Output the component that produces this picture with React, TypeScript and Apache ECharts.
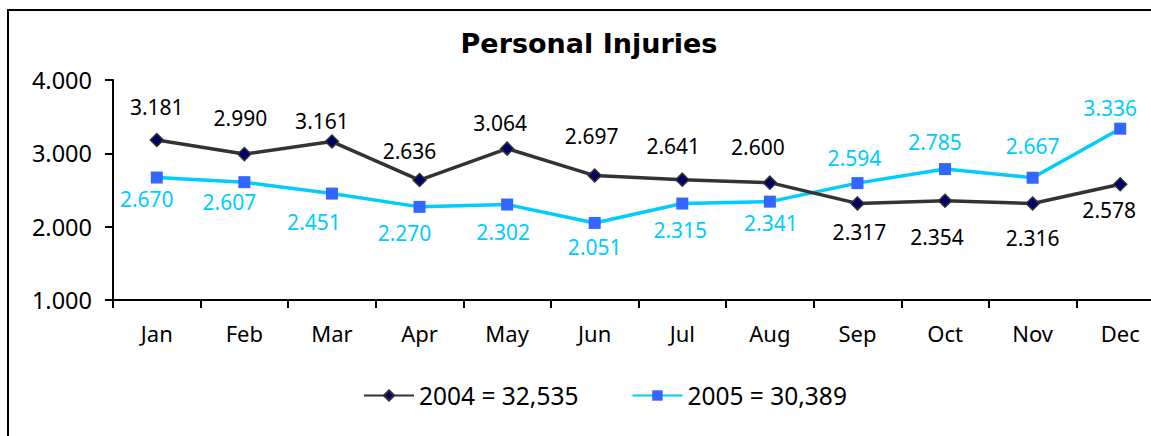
import React, { useEffect, useRef } from "react";
import * as echarts from "echarts";

const months = ["Jan", "Feb", "Mar", "Apr", "May", "Jun", "Jul", "Aug", "Sep", "Oct", "Nov", "Dec"];
const values2004 = [3181, 2990, 3161, 2636, 3064, 2697, 2641, 2600, 2317, 2354, 2316, 2578];
const values2005 = [2670, 2607, 2451, 2270, 2302, 2051, 2315, 2341, 2594, 2785, 2667, 3336];
const seriesYears = ["2004", "2005"];
const yTicks = [1000, 2000, 3000, 4000];
const titleText = "Personal Injuries";

// label offsets (px) relative to each marker centre
const labelOffsets2004: [number, number][] = [
  [0, -33], [-4, -36], [-10, -21], [-10, -29], [-7, -26], [-3, -40],
  [-9, -34], [-12, -36], [2, 29], [-8, 36], [0, 35], [-11, 26],
];
const labelOffsets2005: [number, number][] = [
  [-10, 21], [-15, 20], [-18, 28], [-15, 26], [-4, 27], [0, 24],
  [-2, 26], [1, 21], [-3, -25], [-10, -27], [0, -32], [-10, -21],
];

const FONT = "'Noto Sans', 'DejaVu Sans', sans-serif";
const TITLE_FONT = "'DejaVu Sans', 'Noto Sans', sans-serif";

const fmtDot = (v: number) => {
  const s = String(Math.round(v));
  return s.replace(/\B(?=(\d{3})+(?!\d))/g, ".");
};
const fmtComma = (v: number) => String(Math.round(v)).replace(/\B(?=(\d{3})+(?!\d))/g, ",");
const sum = (a: number[]) => a.reduce((x, y) => x + y, 0);

export default function App() {
  const ref = useRef<HTMLDivElement>(null);
  useEffect(() => {
    if (!ref.current) return;
    const chart = echarts.init(ref.current, undefined, { renderer: "svg" });
    const name2004 = `${seriesYears[0]} = ${fmtComma(sum(values2004))}`;
    const name2005 = `${seriesYears[1]} = ${fmtComma(sum(values2005))}`;
    chart.setOption({
      animation: false,
      backgroundColor: "#ffffff",
      textStyle: { fontFamily: FONT },
      graphic: [
        {
          type: "rect",
          shape: { x: 8, y: 10, width: 2000, height: 1000 },
          style: { fill: "none", stroke: "#000000", lineWidth: 2 },
          z: -1,
        },
        {
          type: "text",
          x: 589,
          y: 43,
          style: {
            text: titleText,
            font: `bold 27px ${TITLE_FONT}`,
            fill: "#000000",
            textAlign: "center",
            textVerticalAlign: "middle",
          },
        },
      ],
      legend: {
        left: 358,
        top: 378,
        itemWidth: 50,
        itemHeight: 13,
        itemGap: 53,
        textStyle: { fontSize: 24.5, color: "#000000", fontFamily: FONT },
        data: [name2004, name2005],
      },
      grid: { left: 113, top: 80, width: 1051, height: 220, containLabel: false },
      xAxis: {
        type: "category",
        data: months,
        boundaryGap: true,
        axisLine: { lineStyle: { color: "#000000", width: 2 } },
        axisTick: { show: true, length: 8, lineStyle: { color: "#000000", width: 2 } },
        axisLabel: { color: "#000000", fontSize: 22, margin: 22, fontFamily: FONT },
        splitLine: { show: false },
      },
      yAxis: {
        type: "value",
        min: yTicks[0],
        max: yTicks[yTicks.length - 1],
        interval: yTicks[1] - yTicks[0],
        axisLine: { show: true, lineStyle: { color: "#000000", width: 2 } },
        axisTick: { show: true, length: 8, lineStyle: { color: "#000000", width: 2 } },
        axisLabel: { color: "#000000", fontSize: 23.5, margin: 21, fontFamily: FONT, formatter: (v: number) => fmtDot(v) },
        splitLine: { show: false },
      },
      series: [
        {
          name: name2004,
          type: "line",
          data: values2004.map((v, i) => ({ value: v, label: { offset: labelOffsets2004[i] } })),
          symbol: "diamond",
          symbolSize: 13,
          lineStyle: { color: "#333333", width: 3.5 },
          itemStyle: { color: "#000066", borderColor: "#333333", borderWidth: 1.5 },
          label: {
            show: true,
            position: "inside",
            color: "#000000",
            fontSize: 21,
            fontFamily: FONT,
            formatter: (p: any) => fmtDot(p.value),
          },
          z: 3,
        },
        {
          name: name2005,
          type: "line",
          data: values2005.map((v, i) => ({ value: v, label: { offset: labelOffsets2005[i] } })),
          symbol: "rect",
          symbolSize: 12,
          lineStyle: { color: "#00CCFF", width: 3.5 },
          itemStyle: { color: "#3366FF", borderColor: "#3366FF", borderWidth: 0 },
          label: {
            show: true,
            position: "inside",
            color: "#00CCFF",
            fontSize: 21,
            fontFamily: FONT,
            formatter: (p: any) => fmtDot(p.value),
          },
          z: 2,
        },
      ],
    });
    return () => chart.dispose();
  }, []);
  return (
    <div
      ref={ref}
      style={{ position: "fixed", left: 0, top: 0, width: 1170, height: 436, background: "#fff" }}
    />
  );
}
